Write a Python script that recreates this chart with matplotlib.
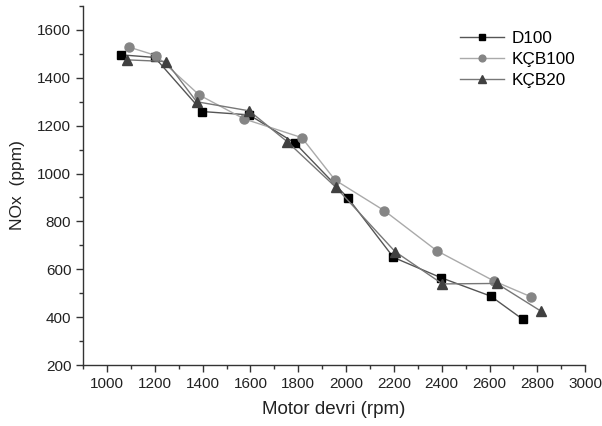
import matplotlib
matplotlib.use("Agg")
import matplotlib.pyplot as plt
from matplotlib.ticker import MultipleLocator

plt.rcParams['font.family'] = ['Liberation Sans', 'DejaVu Sans']

d100_x = [1057, 1200, 1399, 1595, 1787, 2007, 2198, 2397, 2605, 2738]
d100_y = [1496, 1485, 1259, 1245, 1127, 899, 650, 565, 488, 392]

kcb100_x = [1093, 1205, 1386, 1574, 1815, 1954, 2160, 2379, 2619, 2774]
kcb100_y = [1528, 1493, 1328, 1228, 1150, 973, 845, 678, 551, 485]

kcb20_x = [1082, 1247, 1375, 1595, 1754, 1957, 2205, 2403, 2630, 2814]
kcb20_y = [1475, 1468, 1300, 1262, 1133, 943, 674, 539, 541, 426]

fig = plt.figure(figsize=(6.02, 4.26), dpi=100)
ax = fig.add_axes([0.138, 0.143, 0.834, 0.843])

ax.plot(d100_x, d100_y, '-s', color='#555555', lw=1.0, markersize=6,
        markerfacecolor='black', markeredgecolor='black', label='D100')
ax.plot(kcb100_x, kcb100_y, '-o', color='#aaaaaa', lw=1.0, markersize=6.5,
        markerfacecolor='#858585', markeredgecolor='#858585', label='KÇB100')
ax.plot(kcb20_x, kcb20_y, '-^', color='#777777', lw=1.0, markersize=7,
        markerfacecolor='#404040', markeredgecolor='#404040', label='KÇB20')

ax.set_xlim(900, 3000)
ax.set_ylim(200, 1700)
ax.xaxis.set_minor_locator(MultipleLocator(100))
ax.yaxis.set_minor_locator(MultipleLocator(100))
ax.set_xticks(range(1000, 3001, 200))
ax.set_yticks(range(200, 1601, 200))

for s in ['top', 'right']:
    ax.spines[s].set_visible(False)
for s in ['left', 'bottom']:
    ax.spines[s].set_color('#333333')
    ax.spines[s].set_linewidth(1.0)

ax.tick_params(which='major', direction='out', length=5, width=1, colors='#333333', labelsize=11, labelcolor='#222222')
ax.tick_params(which='minor', direction='out', length=3, width=1, colors='#333333')

ax.set_xlabel('Motor devri (rpm)', fontsize=13.5, color='#222222', labelpad=7)
ax.set_ylabel('NOx  (ppm)', fontsize=12.5, color='#222222', labelpad=9)

leg = ax.legend(loc='upper left', bbox_to_anchor=(0.72, 0.973), frameon=False,
                fontsize=12.3, handlelength=2.6, handletextpad=0.4, labelspacing=0.35,
                markerscale=0.75)

fig.savefig('out.png', dpi=100)
